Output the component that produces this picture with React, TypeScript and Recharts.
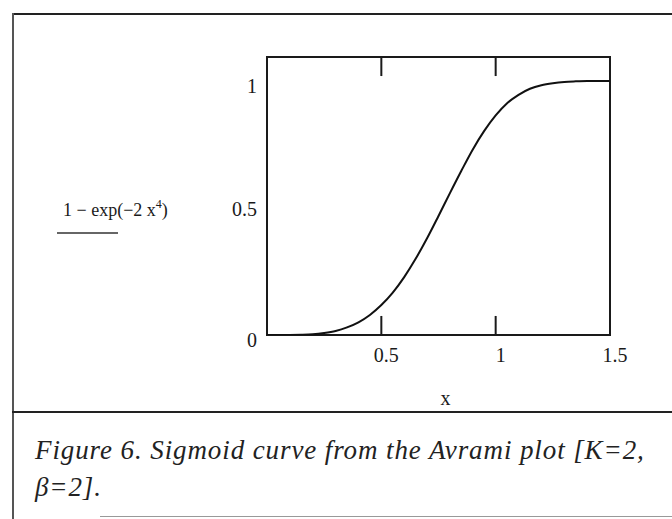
import React from "react";
import {
  LineChart,
  Line,
  XAxis,
  YAxis,
  ReferenceArea,
  ReferenceLine,
} from "recharts";

// curve: 1 - exp(-2 x^4)
const xValues = [
  0, 0.05, 0.1, 0.15, 0.2, 0.25, 0.3, 0.35, 0.4, 0.45, 0.5, 0.55, 0.6, 0.65,
  0.7, 0.75, 0.8, 0.85, 0.9, 0.95, 1.0, 1.05, 1.1, 1.15, 1.2, 1.25, 1.3, 1.35,
  1.4, 1.45, 1.5,
];
const yValues = [
  0, 0, 0.0002, 0.001, 0.003, 0.008, 0.016, 0.03, 0.05, 0.079, 0.118, 0.167,
  0.228, 0.3, 0.381, 0.469, 0.559, 0.647, 0.731, 0.804, 0.865, 0.913, 0.946,
  0.97, 0.984, 0.992, 0.997, 0.999, 1.0, 1.0, 1.0,
];
const xTicks = [0.5, 1, 1.5];
const yTicks = [0, 0.5, 1];
const xDomain: [number, number] = [0, 1.5];
const yDomain: [number, number] = [0, 1.095];
const innerTicks = [0.5, 1];

const captionLine1 = "Figure 6. Sigmoid curve from the Avrami plot [K=2,";
const captionLine2 = "\u03B2=2].";

const data = xValues.map((x, i) => ({ x, y: yValues[i] }));

const FONT = "'Liberation Serif', 'DejaVu Serif', serif";
const INK = "#1a1a1a";
const TICK_LEN = 0.075;

const XTick = (props: any) => {
  const { x, y, payload } = props;
  return (
    <text x={x + 5} y={y + 19} textAnchor="middle" fontFamily={FONT} fontSize={20} fill={INK}>
      {payload.value}
    </text>
  );
};

const YTick = (props: any) => {
  const { x, y, payload } = props;
  const dy = payload.value === 0.5 ? 8 : 12;
  return (
    <text x={x - 2} y={y + dy} textAnchor="end" fontFamily={FONT} fontSize={20} fill={INK}>
      {payload.value}
    </text>
  );
};

const YLabel = (props: any) => {
  const vb = props.viewBox ?? { x: 237, y: 57, width: 30, height: 278 };
  const bx = vb.x - 174;
  const by = vb.y + 159;
  return (
    <g>
      <text x={bx} y={by} fontFamily={FONT} fontSize={18} fill={INK}>
        1 − exp(−2 x
        <tspan dy={-8} fontSize={12}>4</tspan>
        <tspan dy={8}>)</tspan>
      </text>
      <line x1={bx - 6} x2={bx + 55} y1={by + 17} y2={by + 17} stroke="#333" strokeWidth={1.5} />
    </g>
  );
};

const XLabel = (props: any) => {
  const vb = props.viewBox ?? { x: 267, y: 335, width: 343, height: 30 };
  return (
    <text x={vb.x + vb.width / 2 + 7} y={vb.y + 70} textAnchor="middle" fontFamily={FONT} fontSize={20} fill={INK}>
      x
    </text>
  );
};

export default function App() {
  return (
    <div
      style={{
        position: "absolute",
        left: 0,
        top: 0,
        width: 672,
        height: 519,
        overflow: "hidden",
        background: "#fff",
      }}
    >
      {/* scanned frame */}
      <div style={{ position: "absolute", left: 12, top: 13, width: 700, height: 0, borderTop: "2px solid #222" }} />
      <div style={{ position: "absolute", left: 12, top: 13, width: 0, height: 520, borderLeft: "2px solid #555" }} />
      <div style={{ position: "absolute", left: 12, top: 411, width: 700, height: 0, borderTop: "2px solid #222" }} />
      <div style={{ position: "absolute", left: 100, top: 516, width: 600, height: 0, borderTop: "1px solid #999" }} />

      <div style={{ position: "absolute", left: 0, top: 0 }}>
        <LineChart
          width={672}
          height={519}
          data={data}
          margin={{ top: 57, right: 62, bottom: 154, left: 237 }}
        >
          <XAxis
            type="number"
            dataKey="x"
            domain={xDomain}
            ticks={xTicks}
            allowDataOverflow
            axisLine={false}
            tickLine={false}
            height={30}
            tick={<XTick />}
            label={<XLabel />}
          />
          <YAxis
            type="number"
            domain={yDomain}
            ticks={yTicks}
            allowDataOverflow
            axisLine={false}
            tickLine={false}
            width={30}
            tick={<YTick />}
            label={<YLabel />}
          />
          <Line
            type="monotone"
            dataKey="y"
            stroke="#111"
            strokeWidth={2}
            dot={false}
            isAnimationActive={false}
          />
          {innerTicks.map((t) => (
            <ReferenceLine
              key={`b${t}`}
              segment={[
                { x: t, y: 0 },
                { x: t, y: TICK_LEN },
              ]}
              stroke={INK}
              strokeWidth={2}
            />
          ))}
          {innerTicks.map((t) => (
            <ReferenceLine
              key={`t${t}`}
              segment={[
                { x: t, y: yDomain[1] },
                { x: t, y: yDomain[1] - TICK_LEN },
              ]}
              stroke={INK}
              strokeWidth={2}
            />
          ))}
          <ReferenceArea
            x1={xDomain[0]}
            x2={xDomain[1]}
            y1={yDomain[0]}
            y2={yDomain[1]}
            fill="none"
            fillOpacity={0}
            stroke={INK}
            strokeWidth={2}
          />
        </LineChart>
      </div>

      <div
        style={{
          position: "absolute",
          left: 35,
          top: 432,
          fontFamily: FONT,
          fontStyle: "italic",
          fontSize: 27,
          color: "#222",
          lineHeight: "37px",
          whiteSpace: "nowrap",
          letterSpacing: 0.9,
        }}
      >
        <div>{captionLine1}</div>
        <div>{captionLine2}</div>
      </div>
    </div>
  );
}
